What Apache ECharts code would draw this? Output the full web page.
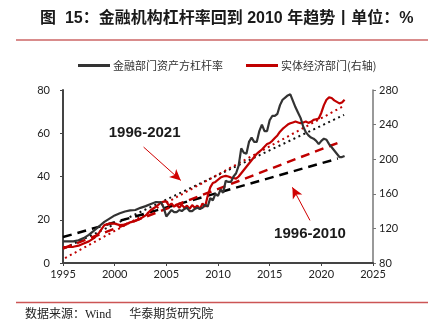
<!DOCTYPE html>
<html>
<head>
<meta charset="utf-8">
<script src="https://cdn.jsdelivr.net/npm/echarts@6/dist/echarts.min.js"></script>
<style>
  html, body { margin: 0; padding: 0; background: #fff; }
  #chart { width: 432px; height: 336px; }
</style>
</head>
<body>
<div id="chart"></div>
<script>
// Time points (fractional years): half-yearly to 2004, quarterly afterwards
const periods = [
  1995.0, 1995.5, 1996.0, 1996.5, 1997.0, 1997.5, 1998.0, 1998.5, 1999.0, 1999.5,
  2000.0, 2000.5, 2001.0, 2001.5, 2002.0, 2002.5, 2003.0, 2003.5, 2004.0, 2004.5,
  2004.75,
  2005.0, 2005.25, 2005.5, 2005.75, 2006.0, 2006.25, 2006.5, 2006.75,
  2007.0, 2007.25, 2007.5, 2007.75, 2008.0, 2008.25, 2008.5, 2008.75,
  2009.0, 2009.25, 2009.5, 2009.75, 2010.0, 2010.25, 2010.5, 2010.75,
  2011.0, 2011.25, 2011.5, 2011.75, 2012.0, 2012.25, 2012.5, 2012.75,
  2013.0, 2013.25, 2013.5, 2013.75, 2014.0, 2014.25, 2014.5, 2014.75,
  2015.0, 2015.25, 2015.5, 2015.75, 2016.0, 2016.25, 2016.5, 2016.75,
  2017.0, 2017.25, 2017.5, 2017.75, 2018.0, 2018.25, 2018.5, 2018.75,
  2019.0, 2019.25, 2019.5, 2019.75, 2020.0, 2020.25, 2020.5, 2020.75,
  2021.0, 2021.25, 2021.5, 2021.75, 2022.0, 2022.25
];

// 金融部门资产方杠杆率 (left axis, %)
const financialLeverage = [
  10, 10, 10, 10.5, 11.5, 13, 15, 17, 19, 20.5,
  22, 23, 23.8, 24.3, 24.5, 25.5, 26.3, 27.3, 28.2, 28,
  25.5,
  21.5, 23, 24.5, 23.5, 23.5, 24.5, 24, 25,
  25.5, 24, 24, 25, 25.5, 25, 25.5, 27,
  26, 30, 29, 32, 31, 34, 32.5, 38,
  37.5, 37.5, 40, 41.5, 45, 53, 51, 50.5,
  56, 58, 56, 56, 61, 64, 61, 61,
  66, 68, 68, 69, 73, 75.5, 76.5, 77.5,
  78, 75, 72, 69.5, 67, 63, 60.5, 59,
  58, 57.5, 56.5, 55, 56.5, 57.5, 57, 55,
  53.5, 52, 50.5, 49, 49, 49.5
];

// 实体经济部门 (right axis, %)
const realEconomyLeverage = [
  98.5, 98.5, 98.75, 100, 102.5, 105, 108.75, 115, 123.75, 125.75,
  125.5, 123.75, 124.5, 127, 128.75, 131.25, 135, 141.25, 145, 150,
  151,
  151.25, 146.25, 148.75, 145, 147.5, 143.75, 147.5, 143.75,
  146.25, 142.5, 147, 143.75, 146.25, 142.5, 148.75, 145,
  157.5, 167.5, 172.5, 173.75, 176.25, 178.75, 180, 180.75,
  180, 178.75, 178.25, 177.5, 180, 183.75, 187.5, 191.25,
  195, 198.75, 202.5, 206.25, 208.75, 211.25, 214.5, 217.5,
  218.75, 221.25, 224.5, 227.5, 231.75, 235, 237.5, 240,
  241.5, 242.5, 243.5, 242.5, 241.5, 242.5, 243.5, 242,
  243.25, 245.5, 246.25, 247, 253.75, 262.5, 268.75, 271.5,
  270.75, 268, 266.25, 264.5, 265.5, 268.75
];

// Linear trends: fitted over 1996-2021 (dotted) and 1996-2010 (dashed)
const trendLongYears = [1995.2, 2022.2];
const financialTrendLong = [7, 68.5];
const realTrendLong = [85.75, 261.75];
const trendShortFinYears = [1995.0, 2021.6];
const financialTrendShort = [12, 48.3];
const trendShortRealYears = [1995.0, 2021.9];
const realTrendShort = [96.75, 220.25];

// Annotation labels and arrow ends (year, left-axis value)
const noteLong = { text: '1996-2021', at: [2002.9, 60.3], from: [2002.8, 53.6], to: [2006.4, 38.2] };
const noteShort = { text: '1996-2010', at: [2018.9, 13.7], from: [2018.9, 19.7], to: [2017.2, 35] };

const xTicks = { min: 1995, max: 2025, step: 5 };
const leftTicks = { min: 0, max: 80, step: 20 };
const rightTicks = { min: 80, max: 280, step: 40 };

const zip = (xs, ys) => xs.map((x, i) => [x, ys[i]]);

const BLACK = '#333333';
const RED = '#c00000';
const axisFont = 'Lato, "DejaVu Sans", sans-serif';

const chart = echarts.init(document.getElementById('chart'), null, { renderer: 'canvas' });

function noteLabel(n) {
  return {
    coord: n.at,
    symbol: 'circle',
    symbolSize: 1,
    itemStyle: { color: 'rgba(0,0,0,0)' },
    label: {
      show: true, position: 'inside', formatter: n.text,
      color: '#1a1a1a', fontSize: 15, fontWeight: 'bold',
      fontFamily: '"Liberation Sans", Arial, sans-serif'
    }
  };
}
function noteArrow(n) {
  return [
    { coord: n.from, symbol: 'none' },
    { coord: n.to, symbol: 'arrow', symbolSize: [8, 11] }
  ];
}

chart.setOption({
  animation: false,
  backgroundColor: '#fff',
  title: {
    text: '图  15：金融机构杠杆率回到 2010 年趋势丨单位：%',
    left: 40, top: 11, padding: 0,
    textStyle: {
      fontSize: 16, fontWeight: 'bold', color: '#1a1a1a',
      fontFamily: '"Liberation Sans", "Noto Sans CJK SC", sans-serif'
    }
  },
  graphic: [
    { type: 'line', shape: { x1: 16, y1: 40, x2: 428, y2: 40 }, style: { stroke: '#cc6666', lineWidth: 1.5 } },
    { type: 'line', shape: { x1: 16, y1: 302.5, x2: 428, y2: 302.5 }, style: { stroke: '#cc5555', lineWidth: 1.5 } },
    {
      type: 'text', left: 25, top: 309,
      style: {
        text: '数据来源：Wind　  华泰期货研究院',
        fill: '#222', fontSize: 12,
        fontFamily: '"Liberation Serif", "Noto Sans CJK SC", serif'
      }
    }
  ],
  legend: {
    left: 73, top: 55,
    data: ['金融部门资产方杠杆率', '实体经济部门(右轴)'],
    icon: 'rect', itemWidth: 32, itemHeight: 3, itemGap: 23,
    textStyle: { fontSize: 11, color: '#333', fontFamily: '"Noto Sans CJK SC", sans-serif', padding: [0, 0, 0, -2] }
  },
  grid: { left: 63, right: 59, top: 90, bottom: 73 },
  xAxis: {
    type: 'value', min: xTicks.min, max: xTicks.max, interval: xTicks.step,
    axisLine: { lineStyle: { color: '#444', width: 2 } },
    axisTick: { show: true, length: 3, lineStyle: { color: '#444' } },
    splitLine: { show: false },
    axisLabel: { color: '#222', fontSize: 11, fontFamily: axisFont, margin: 6, formatter: v => String(v) }
  },
  yAxis: [
    {
      type: 'value', min: leftTicks.min, max: leftTicks.max, interval: leftTicks.step,
      axisLine: { show: true, lineStyle: { color: '#444', width: 2 } },
      axisTick: { show: true, length: 3, lineStyle: { color: '#444' } },
      splitLine: { show: false },
      axisLabel: { color: '#222', fontSize: 11, fontFamily: axisFont, margin: 13 }
    },
    {
      type: 'value', min: rightTicks.min, max: rightTicks.max, interval: rightTicks.step,
      position: 'right',
      axisLine: { show: true, lineStyle: { color: '#777', width: 1.5 } },
      axisTick: { show: true, length: 3, lineStyle: { color: '#777' } },
      splitLine: { show: false },
      axisLabel: { color: '#222', fontSize: 11, fontFamily: axisFont, margin: 6 }
    }
  ],
  series: [
    {
      name: 'trend-fin-long', type: 'line', yAxisIndex: 0, showSymbol: false, silent: true,
      data: zip(trendLongYears, financialTrendLong),
      lineStyle: { color: '#111', width: 2, type: [2, 3.5] },
      markPoint: { silent: true, data: [noteLabel(noteLong), noteLabel(noteShort)] },
      markLine: {
        silent: true,
        lineStyle: { color: '#d00000', width: 1, type: 'solid' },
        label: { show: false },
        data: [noteArrow(noteLong), noteArrow(noteShort)]
      }
    },
    {
      name: 'trend-real-long', type: 'line', yAxisIndex: 1, showSymbol: false, silent: true,
      data: zip(trendLongYears, realTrendLong),
      lineStyle: { color: RED, width: 2, type: [2, 3.5] }
    },
    {
      name: 'trend-fin-short', type: 'line', yAxisIndex: 0, showSymbol: false, silent: true,
      data: zip(trendShortFinYears, financialTrendShort),
      lineStyle: { color: '#000', width: 2.5, type: [9, 6] }
    },
    {
      name: 'trend-real-short', type: 'line', yAxisIndex: 1, showSymbol: false, silent: true,
      data: zip(trendShortRealYears, realTrendShort),
      lineStyle: { color: RED, width: 2.5, type: [9, 6] }
    },
    {
      name: '实体经济部门(右轴)', type: 'line', yAxisIndex: 1, showSymbol: false,
      data: zip(periods, realEconomyLeverage),
      itemStyle: { color: RED },
      lineStyle: { color: RED, width: 2.2 }
    },
    {
      name: '金融部门资产方杠杆率', type: 'line', yAxisIndex: 0, showSymbol: false,
      data: zip(periods, financialLeverage),
      itemStyle: { color: BLACK },
      lineStyle: { color: BLACK, width: 2.2 }
    }
  ]
});
</script>
</body>
</html>
